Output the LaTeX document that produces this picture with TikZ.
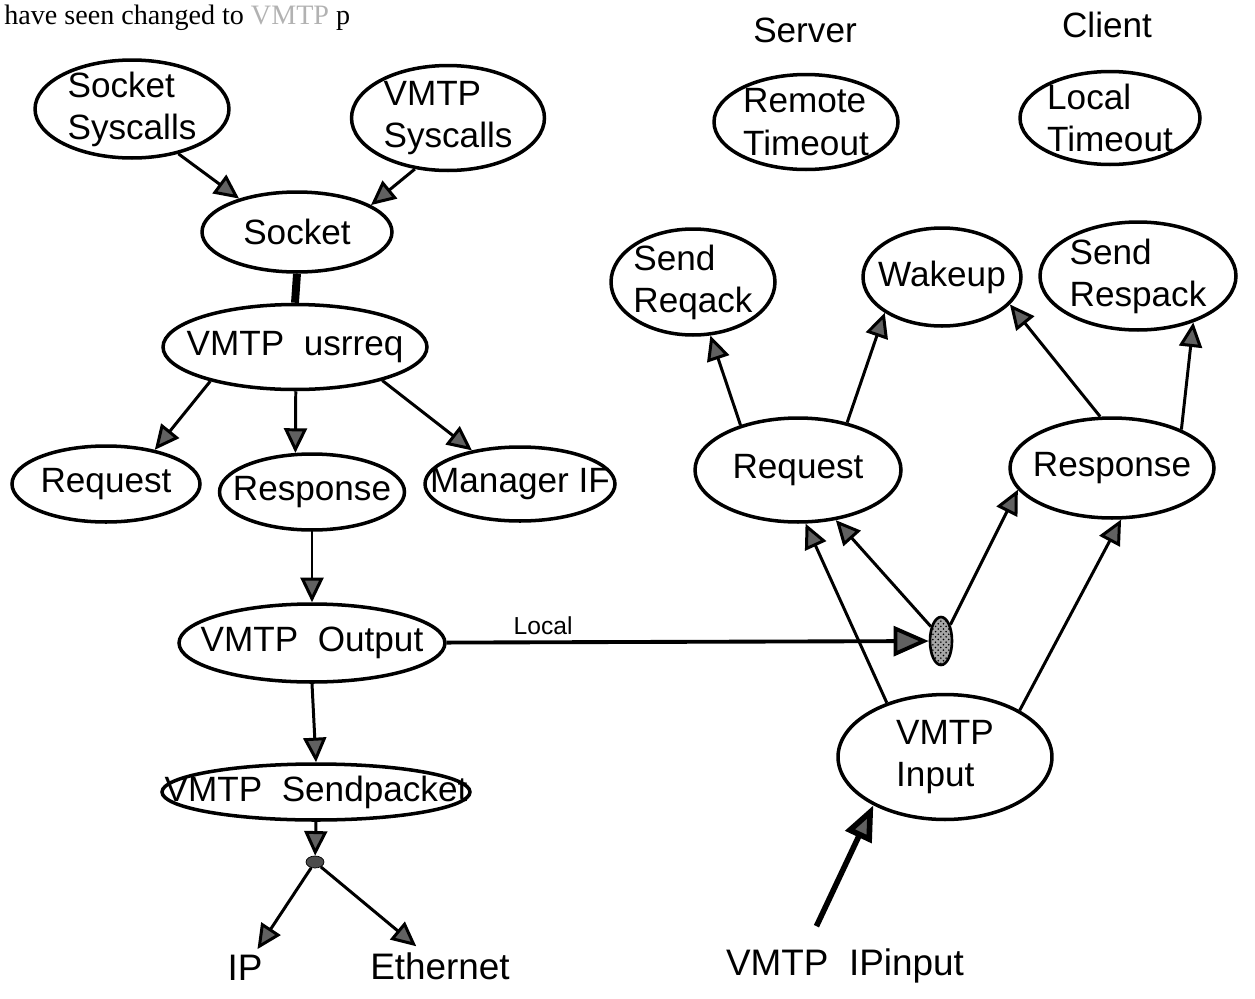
\documentclass[tikz,border=0pt]{standalone}
\usepackage{fontspec}
\setmainfont{Liberation Sans}
\newfontfamily\headfont{Liberation Serif}
\usetikzlibrary{shapes.geometric,arrows.meta,patterns}

\begin{document}
\begin{tikzpicture}[x=0.02cm, y=-0.02cm,
    font=\fontsize{20}{24}\selectfont,
    every label/.style={align=left, inner sep=0pt},
    proc node/.style={ellipse, draw, line width=2pt, inner sep=0pt},
    flow/.style={line width=1.7pt, -{Triangle[length=14pt,width=13pt,fill=black!62]}}]

  \clip (0,0) rectangle (1255,998);

  \node[anchor=base west, inner sep=0pt, font=\headfont\fontsize{16}{18}\selectfont]
    (head) at (4,24) {have seen changed to \textcolor{black!30}{VMTP} p};

  % left half: the calls down to the wire
  \node[proc node, minimum width=3.88cm, minimum height=1.96cm, label=center:{Socket\\Syscalls}] (sockcall) at (132,109) {};
  \node[proc node, minimum width=3.86cm, minimum height=2.1cm, label=center:{VMTP\\Syscalls}] (vmtpcall) at (448,118) {};
  \node[proc node, minimum width=3.8cm, minimum height=1.6cm, label=center:Socket] (socket) at (297,232) {};
  \node[proc node, minimum width=5.28cm, minimum height=1.7cm, label=center:{VMTP\ \ usrreq}] (usrreq) at (295,347) {};
  \node[proc node, minimum width=3.76cm, minimum height=1.52cm, label=center:Request] (reqL) at (106,484) {};
  \node[proc node, minimum width=3.7cm, minimum height=1.52cm, label=center:Response] (respL) at (312,492) {};
  \node[proc node, minimum width=3.8cm, minimum height=1.48cm, label=center:{Manager IF}] (mgr) at (520,484) {};
  \node[proc node, minimum width=5.32cm, minimum height=1.56cm, label=center:{VMTP\ \ Output}] (output) at (312,643) {};
  \node[proc node, minimum width=6.16cm, minimum height=1.12cm, label=center:{VMTP\ \ Sendpacket}] (sendpkt) at (316,792) {};
  \node[ellipse, draw, fill=black!70, minimum width=0.36cm, minimum height=0.24cm, inner sep=0pt] (dot) at (315,862) {};
  \node[font=\fontsize{21}{24}\selectfont] (ip) at (245,968) {IP};
  \node[font=\fontsize{21}{24}\selectfont] (eth) at (440,966) {Ethernet};

  % right half: timeouts and input side
  \node (server) at (805,30) {Server};
  \node (client) at (1107,25) {Client};
  \node[proc node, minimum width=3.68cm, minimum height=1.9cm, label=center:{Remote\\Timeout}] (rtime) at (806,122) {};
  \node[proc node, minimum width=3.6cm, minimum height=1.86cm, label=center:{Local\\Timeout}] (ltime) at (1110,118) {};
  \node[proc node, minimum width=3.28cm, minimum height=2.12cm, label=center:{Send\\Reqack}] (sendack) at (693,282) {};
  \node[proc node, minimum width=3.16cm, minimum height=1.96cm, label=center:Wakeup] (wakeup) at (942,277) {};
  \node[proc node, minimum width=3.92cm, minimum height=2.16cm, label=center:{Send\\Respack}] (sendresp) at (1138,276) {};
  \node[proc node, minimum width=4.12cm, minimum height=2.08cm, label=center:Request] (reqR) at (798,470) {};
  \node[proc node, minimum width=4.08cm, minimum height=2cm, label=center:Response] (respR) at (1112,468) {};
  \node[ellipse, draw, line width=1.5pt, preaction={fill=black!35}, pattern=crosshatch dots,
        minimum width=0.44cm, minimum height=0.96cm, inner sep=0pt] (J) at (941,641) {};
  \node[proc node, minimum width=4.28cm, minimum height=2.5cm, label=center:{VMTP\\Input}] (input) at (945,757) {};
  \node[anchor=base, font=\fontsize{21}{24}\selectfont] (ipin) at (845,975) {VMTP\ \ IPinput};

  \draw[line width=4.5pt] (socket.south) -- (usrreq.north);

  \path[flow]
    (sockcall.-44) edge (socket.150)
    (vmtpcall.237) edge (socket.20)
    (usrreq.202) edge (reqL.35)
    (usrreq.-89) edge (respL.113)
    (usrreq.-21) edge (mgr.145)
    (respL.south) edge (output.north)
    (output.south) edge (sendpkt.north)
    (sendpkt.south) edge (dot)
    (dot) edge (ip)
    (dot) edge (eth);

  \path[flow]
    (reqR.142) edge (sendack.-72)
    (reqR.44) edge (wakeup.212)
    (respR.103) edge (wakeup.-22)
    (respR.29) edge (sendresp.-40)
    (input.137) edge (reqR.-82)
    (input.32) edge (respR.-80)
    (J.125) edge (reqR.-53)
    (J.60) edge (respR.193);

  \draw[line width=2.2pt, -{Triangle[length=20pt,width=17pt,fill=black!62]}]
    (output) -- node[above, pos=0.2, font=\fontsize{14}{16}\selectfont] (local) {Local} (J);
  \draw[line width=3.2pt, shorten <=10pt, -{Triangle[length=20pt,width=16pt,fill=black!62]}]
    (ipin.147) -- (input.214);
\end{tikzpicture}
\end{document}
